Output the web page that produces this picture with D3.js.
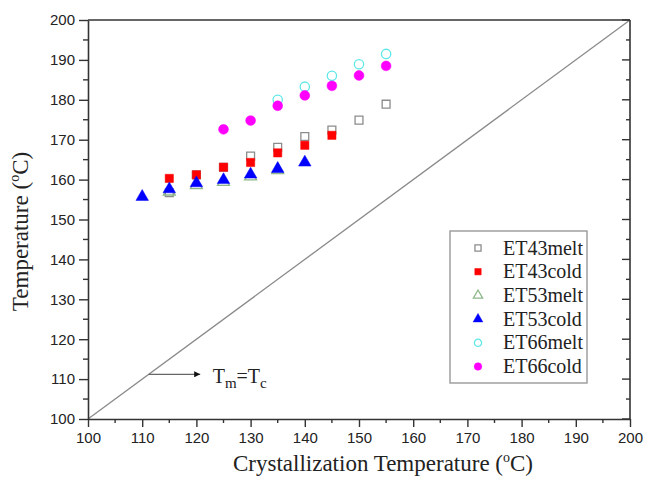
<!DOCTYPE html>
<html>
<head>
<meta charset="utf-8">
<script src="https://cdn.jsdelivr.net/npm/d3@7"></script>
<style>
  html, body { margin: 0; padding: 0; background: #fff; }
  svg { display: block; }
</style>
</head>
<body>
<svg id="chart" width="645" height="484"></svg>
<script>
// Crystallization temperature (x) and measured temperatures (y) per sample series
const tcET43melt = [115, 120, 125, 130, 135, 140, 145, 150, 155];
const ET43melt   = [156.7, 161.2, 163.1, 165.9, 168.1, 170.8, 172.4, 174.9, 178.9];
const tcET43cold = [115, 120, 125, 130, 135, 140, 145];
const ET43cold   = [160.3, 161.2, 163.1, 164.3, 166.7, 168.6, 171.1];
const tcET53melt = [115, 120, 125, 130, 135];
const ET53melt   = [157.0, 158.6, 159.4, 160.8, 162.4];
const tcET53cold = [110, 115, 120, 125, 130, 135, 140];
const ET53cold   = [155.7, 157.6, 159.1, 159.9, 161.3, 162.7, 164.3];
const tcET66melt = [135, 140, 145, 150, 155];
const ET66melt   = [180.0, 183.3, 186.0, 188.9, 191.5];
const tcET66cold = [125, 130, 135, 140, 145, 150, 155];
const ET66cold   = [172.6, 174.8, 178.5, 181.1, 183.5, 186.1, 188.5];

const seriesNames = ["ET43melt", "ET43cold", "ET53melt", "ET53cold", "ET66melt", "ET66cold"];
const xTicks = [100, 110, 120, 130, 140, 150, 160, 170, 180, 190, 200];
const yTicks = [100, 110, 120, 130, 140, 150, 160, 170, 180, 190, 200];

const series = [
  { name: seriesNames[0], xs: tcET43melt, ys: ET43melt, shape: d3.symbolSquare, fill: "none", stroke: "#8c8c8c", size: 62 },
  { name: seriesNames[1], xs: tcET43cold, ys: ET43cold, shape: d3.symbolSquare, fill: "#ff0000", stroke: "#ff0000", size: 68 },
  { name: seriesNames[2], xs: tcET53melt, ys: ET53melt, shape: d3.symbolTriangle, fill: "none", stroke: "#8fb88a", size: 62 },
  { name: seriesNames[3], xs: tcET53cold, ys: ET53cold, shape: d3.symbolTriangle, fill: "#0000ff", stroke: "#0000ff", size: 68 },
  { name: seriesNames[4], xs: tcET66melt, ys: ET66melt, shape: d3.symbolCircle, fill: "none", stroke: "#5fe8e8", size: 68 },
  { name: seriesNames[5], xs: tcET66cold, ys: ET66cold, shape: d3.symbolCircle, fill: "#ff00ff", stroke: "#ff00ff", size: 76 }
];

const svg = d3.select("#chart");
const plotLeft = 88, plotRight = 630, plotTop = 20, plotBottom = 419;

const x = d3.scaleLinear().domain([100, 200]).range([plotLeft, plotRight]);
const y = d3.scaleLinear().domain([100, 200]).range([plotBottom, plotTop]);

const minorX = d3.range(105, 200, 10);
const minorY = d3.range(105, 200, 10);

// Tm = Tc reference diagonal
svg.append("line")
  .attr("x1", x(100)).attr("y1", y(100))
  .attr("x2", x(200)).attr("y2", y(200))
  .attr("stroke", "#8a8a8a").attr("stroke-width", 1.3);

// Frame (top and right)
svg.append("line").attr("x1", plotLeft).attr("x2", plotRight).attr("y1", plotTop).attr("y2", plotTop)
  .attr("stroke", "#333").attr("stroke-width", 1.6);
svg.append("line").attr("x1", plotRight).attr("x2", plotRight).attr("y1", plotTop).attr("y2", plotBottom)
  .attr("stroke", "#333").attr("stroke-width", 1.6);

// Right side inward ticks
const rightAxis = svg.append("g");
rightAxis.append("g").selectAll("line").data(yTicks).join("line")
  .attr("x1", plotRight - 8).attr("x2", plotRight)
  .attr("y1", d => y(d)).attr("y2", d => y(d))
  .attr("stroke", "#333").attr("stroke-width", 1.4);
rightAxis.append("g").selectAll("line").data(minorY).join("line")
  .attr("x1", plotRight - 4).attr("x2", plotRight)
  .attr("y1", d => y(d)).attr("y2", d => y(d))
  .attr("stroke", "#333").attr("stroke-width", 1.4);

// Bottom axis
const xAxis = svg.append("g").attr("transform", `translate(0,${plotBottom})`)
  .call(d3.axisBottom(x).tickValues(xTicks).tickSize(8).tickPadding(5).tickSizeOuter(0));
xAxis.append("g").selectAll("line").data(minorX).join("line")
  .attr("x1", d => x(d)).attr("x2", d => x(d)).attr("y1", 0).attr("y2", 4)
  .attr("stroke", "#333").attr("stroke-width", 1.4);

// Left axis
const yAxis = svg.append("g").attr("transform", `translate(${plotLeft},0)`)
  .call(d3.axisLeft(y).tickValues(yTicks).tickSize(9).tickPadding(4).tickSizeOuter(0));
yAxis.append("g").selectAll("line").data(minorY).join("line")
  .attr("x1", -5).attr("x2", 0).attr("y1", d => y(d)).attr("y2", d => y(d))
  .attr("stroke", "#333").attr("stroke-width", 1.4);

[xAxis, yAxis].forEach(a => {
  a.select(".domain").attr("stroke", "#333").attr("stroke-width", 1.6);
  a.selectAll(".tick line").attr("stroke", "#333").attr("stroke-width", 1.4);
  a.selectAll(".tick text")
    .attr("font-family", "'Liberation Sans', Arial, sans-serif")
    .attr("font-size", 15).attr("fill", "#222");
});

// Data markers
const sym = d3.symbol();
series.forEach(s => {
  svg.append("g").selectAll("path").data(s.xs.map((v, i) => [v, s.ys[i]])).join("path")
    .attr("transform", d => `translate(${x(d[0])},${y(d[1])})`)
    .attr("d", sym.type(s.shape).size(s.size)())
    .attr("fill", s.fill)
    .attr("stroke", s.stroke)
    .attr("stroke-width", s.fill === "none" ? 1.3 : 0.5);
});

// Annotation arrow pointing away from the diagonal
const arrowY = 111.2;
svg.append("defs").append("marker")
  .attr("id", "arrowhead").attr("viewBox", "0 0 10 10")
  .attr("refX", 10).attr("refY", 5)
  .attr("markerWidth", 9).attr("markerHeight", 6)
  .attr("markerUnits", "userSpaceOnUse")
  .attr("orient", "auto")
  .append("path").attr("d", "M0,0 L10,5 L0,10 Z").attr("fill", "#111");
svg.append("line")
  .attr("x1", x(arrowY)).attr("y1", y(arrowY))
  .attr("x2", x(120.7)).attr("y2", y(arrowY))
  .attr("stroke", "#666").attr("stroke-width", 1.2)
  .attr("marker-end", "url(#arrowhead)");

const eq = svg.append("text")
  .attr("x", x(123)).attr("y", y(arrowY) + 9)
  .attr("font-family", "'Liberation Serif', 'Times New Roman', serif")
  .attr("font-size", 20).attr("fill", "#222");
eq.append("tspan").text("T");
eq.append("tspan").attr("font-size", 15).attr("dy", 5).text("m");
eq.append("tspan").attr("dy", -5).text("=T");
eq.append("tspan").attr("font-size", 15).attr("dy", 5).text("c");

// Legend
const lg = svg.append("g");
lg.append("rect")
  .attr("x", 450).attr("y", 231).attr("width", 137).attr("height", 152)
  .attr("fill", "#fff").attr("stroke", "#999").attr("stroke-width", 1.4);
series.forEach((s, i) => {
  const cy = 248 + i * 23.7;
  lg.append("path")
    .attr("transform", `translate(478,${cy})`)
    .attr("d", sym.type(s.shape).size(s.size * 0.6)())
    .attr("fill", s.fill).attr("stroke", s.stroke)
    .attr("stroke-width", s.fill === "none" ? 1.3 : 0.5);
  lg.append("text")
    .attr("x", 503).attr("y", cy + 6.5)
    .attr("font-family", "'Liberation Serif', 'Times New Roman', serif")
    .attr("font-size", 20).attr("fill", "#222")
    .text(s.name);
});

// Axis titles
const xt = svg.append("text")
  .attr("x", (plotLeft + plotRight) / 2 + 24).attr("y", 471)
  .attr("text-anchor", "middle")
  .attr("font-family", "'Liberation Serif', 'Times New Roman', serif")
  .attr("font-size", 23).attr("fill", "#222");
xt.append("tspan").text("Crystallization Temperature (");
xt.append("tspan").attr("font-size", 14).attr("dy", -9).text("o");
xt.append("tspan").attr("dy", 9).text("C)");

const yt = svg.append("text")
  .attr("transform", `translate(28,${(plotTop + plotBottom) / 2 + 12}) rotate(-90)`)
  .attr("text-anchor", "middle")
  .attr("font-family", "'Liberation Serif', 'Times New Roman', serif")
  .attr("font-size", 23).attr("fill", "#222");
yt.append("tspan").text("Temperature (");
yt.append("tspan").attr("font-size", 14).attr("dy", -9).text("o");
yt.append("tspan").attr("dy", 9).text("C)");
</script>
</body>
</html>
